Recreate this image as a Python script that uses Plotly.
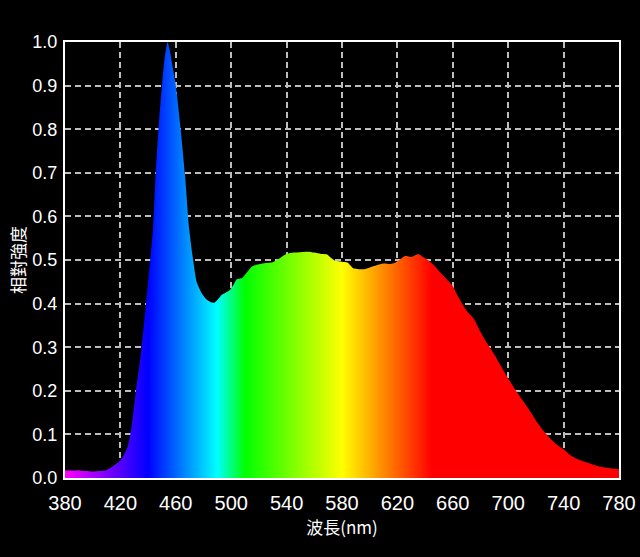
import plotly.graph_objects as go

# spectrum (wavelength in nm, relative intensity)
wavelength = [380, 385, 390, 395, 400, 405, 410, 415, 420, 425, 428, 431, 435, 438.5,
              441.5, 443.5, 445.5, 447.5, 450, 452, 454, 456, 457, 460, 463.5, 466.5,
              469.7, 472.5, 475, 478.5, 482, 485.5, 488, 491, 493, 496, 499, 502, 504,
              508, 511, 515, 520, 525, 530, 535, 540, 545, 550, 555, 560, 565, 569, 572,
              575, 580, 584, 588, 592, 596, 600, 605, 610, 615, 618, 622, 626, 630, 635,
              638, 642, 646, 650, 655, 660, 664, 668, 672, 675, 680, 685, 690, 695, 700,
              705, 710, 715, 720, 725, 730, 735, 740, 745, 750, 755, 760, 765, 770, 775, 780]
intensity = [0.018, 0.017, 0.018, 0.016, 0.015, 0.016, 0.018, 0.028, 0.040, 0.070, 0.115,
             0.195, 0.29, 0.40, 0.50, 0.57, 0.70, 0.80, 0.90, 0.965, 1.00, 0.975, 0.955,
             0.90, 0.80, 0.70, 0.57, 0.50, 0.45, 0.425, 0.41, 0.403, 0.402, 0.412, 0.42,
             0.425, 0.431, 0.445, 0.456, 0.459, 0.47, 0.485, 0.490, 0.493, 0.495, 0.504,
             0.514, 0.517, 0.518, 0.519, 0.517, 0.514, 0.513, 0.505, 0.498, 0.496, 0.494,
             0.481, 0.479, 0.479, 0.483, 0.488, 0.492, 0.491, 0.493, 0.502, 0.510, 0.507,
             0.514, 0.508, 0.500, 0.489, 0.475, 0.458, 0.440, 0.415, 0.393, 0.376, 0.366,
             0.335, 0.308, 0.283, 0.255, 0.228, 0.203, 0.180, 0.157, 0.132, 0.110, 0.092,
             0.077, 0.066, 0.052, 0.043, 0.037, 0.032, 0.027, 0.024, 0.022, 0.020]

x_ticks = [380, 420, 460, 500, 540, 580, 620, 660, 700, 740, 780]

# visible spectrum colours across 380-780 nm
spectrum = [
    [0.0, "rgb(255,0,255)"],
    [0.15, "rgb(0,0,255)"],
    [0.275, "rgb(0,255,255)"],
    [0.325, "rgb(0,255,0)"],
    [0.5, "rgb(255,255,0)"],
    [0.6625, "rgb(255,0,0)"],
    [1.0, "rgb(255,0,0)"],
]

fig = go.Figure()
fig.add_trace(go.Scatter(
    x=wavelength, y=intensity, mode="lines", fill="tozeroy",
    line=dict(width=0, color="black", shape="spline", smoothing=0.6),
    fillgradient=dict(type="horizontal", colorscale=spectrum),
    hoverinfo="x+y", showlegend=False,
))

font = "Liberation Sans, Noto Sans CJK TC"
cjk = "Noto Sans CJK TC"
grid = dict(showgrid=True, gridcolor="#bdbdbd", griddash="6px,4px", gridwidth=1.5,
            showline=True, linecolor="white", linewidth=2, mirror=True,
            zeroline=False, ticks="", automargin=False)
fig.update_layout(
    width=640, height=557,
    paper_bgcolor="black", plot_bgcolor="black",
    margin=dict(l=65, r=21, t=42, b=79),
    font=dict(family=font, color="white", size=18),
)
fig.update_xaxes(
    range=[380, 780], tickvals=x_ticks, ticklabelstandoff=6,
    tickfont=dict(size=20, color="white"),
    title=dict(text="波長(nm)", font=dict(family=cjk, size=17, color="white"), standoff=2),
    **grid,
)
fig.update_yaxes(
    range=[0, 1.0], dtick=0.1, tickformat=".1f", ticklabelstandoff=2,
    tickfont=dict(size=18, color="white"),
    title=dict(text="相對強度", font=dict(family=cjk, size=17, color="white"), standoff=2),
    **grid,
)

# page itself black with no body margin
fig.write_html("out.html", config={"displayModeBar": False}, post_script=(
    "document.body.style.margin='0';"
    "document.body.style.background='black';"
))
